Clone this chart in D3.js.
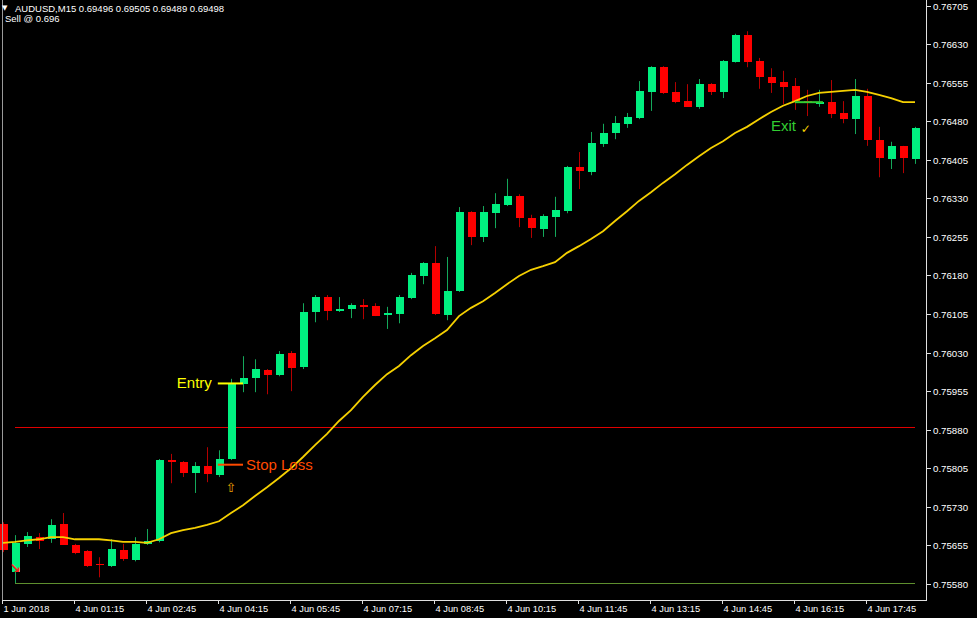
<!DOCTYPE html>
<html><head><meta charset="utf-8">
<script src="https://cdn.jsdelivr.net/npm/d3@7/dist/d3.min.js"></script>
<style>body{margin:0;background:#000;} svg{display:block}</style>
</head><body><svg id="c" width="977" height="618"></svg>
<script>
const openP=[0.75697,0.75603,0.75658,0.75671,0.75667,0.75697,0.75656,0.75644,0.75619,0.75615,0.75646,0.75626,0.75658,0.75663,0.75821,0.75817,0.75796,0.75809,0.75792,0.75823,0.75969,0.75980,0.75996,0.75986,0.76029,0.76002,0.76109,0.76138,0.76111,0.76115,0.76122,0.76121,0.76103,0.76105,0.76136,0.76179,0.76204,0.76103,0.76150,0.76303,0.76255,0.76301,0.76317,0.76334,0.76292,0.76270,0.76294,0.76305,0.76391,0.76381,0.76436,0.76457,0.76475,0.76486,0.76537,0.76585,0.76537,0.76519,0.76508,0.76552,0.76537,0.76595,0.76648,0.76597,0.76566,0.76556,0.76548,0.76519,0.76515,0.76517,0.76496,0.76484,0.76529,0.76443,0.76406,0.76432,0.76406];
const highP=[0.75700,0.75675,0.75681,0.75679,0.75706,0.75718,0.75658,0.75646,0.75632,0.75667,0.75658,0.75671,0.75687,0.75823,0.75833,0.75819,0.75817,0.75846,0.75840,0.75979,0.76023,0.76017,0.75998,0.76033,0.76033,0.76126,0.76142,0.76142,0.76138,0.76126,0.76134,0.76126,0.76119,0.76142,0.76185,0.76206,0.76237,0.76216,0.76313,0.76305,0.76315,0.76340,0.76368,0.76338,0.76298,0.76299,0.76333,0.76393,0.76420,0.76459,0.76475,0.76490,0.76496,0.76558,0.76587,0.76587,0.76556,0.76552,0.76562,0.76554,0.76599,0.76650,0.76655,0.76603,0.76583,0.76578,0.76564,0.76541,0.76541,0.76560,0.76519,0.76562,0.76543,0.76469,0.76440,0.76432,0.76469];
const lowP=[0.75642,0.75582,0.75652,0.75648,0.75660,0.75656,0.75638,0.75613,0.75593,0.75613,0.75625,0.75624,0.75656,0.75661,0.75776,0.75788,0.75757,0.75778,0.75788,0.75821,0.75953,0.75953,0.75949,0.75984,0.75955,0.75998,0.76089,0.76093,0.76109,0.76097,0.76095,0.76101,0.76076,0.76087,0.76134,0.76163,0.76103,0.76093,0.76148,0.76239,0.76245,0.76272,0.76315,0.76274,0.76253,0.76255,0.76255,0.76301,0.76348,0.76375,0.76430,0.76445,0.76467,0.76484,0.76500,0.76533,0.76515,0.76508,0.76504,0.76531,0.76525,0.76594,0.76585,0.76543,0.76535,0.76513,0.76502,0.76490,0.76508,0.76486,0.76476,0.76455,0.76432,0.76371,0.76387,0.76379,0.76397];
const closeP=[0.75646,0.75660,0.75673,0.75663,0.75695,0.75656,0.75640,0.75615,0.75617,0.75648,0.75628,0.75658,0.75663,0.75821,0.75817,0.75796,0.75809,0.75794,0.75823,0.75969,0.75980,0.75998,0.75986,0.76027,0.76000,0.76109,0.76138,0.76111,0.76115,0.76122,0.76119,0.76101,0.76107,0.76138,0.76181,0.76204,0.76105,0.76150,0.76303,0.76255,0.76303,0.76319,0.76334,0.76292,0.76272,0.76296,0.76307,0.76391,0.76383,0.76438,0.76457,0.76476,0.76488,0.76539,0.76585,0.76535,0.76517,0.76508,0.76552,0.76537,0.76597,0.76648,0.76595,0.76566,0.76554,0.76546,0.76519,0.76517,0.76517,0.76494,0.76484,0.76529,0.76443,0.76408,0.76432,0.76408,0.76467];
const maP=[0.75660,0.75662,0.75665,0.75667,0.75671,0.75671,0.75667,0.75667,0.75667,0.75665,0.75662,0.75662,0.75660,0.75667,0.75679,0.75685,0.75689,0.75695,0.75702,0.75718,0.75733,0.75751,0.75768,0.75786,0.75805,0.75827,0.75850,0.75872,0.75897,0.75918,0.75944,0.75967,0.75988,0.76004,0.76025,0.76043,0.76058,0.76074,0.76101,0.76117,0.76130,0.76146,0.76163,0.76179,0.76191,0.76198,0.76206,0.76224,0.76237,0.76251,0.76266,0.76286,0.76305,0.76325,0.76342,0.76360,0.76377,0.76395,0.76412,0.76428,0.76441,0.76457,0.76469,0.76484,0.76498,0.76510,0.76519,0.76529,0.76535,0.76537,0.76539,0.76541,0.76537,0.76531,0.76525,0.76517,0.76517];
const yTicks=[0.76705,0.76630,0.76555,0.76480,0.76405,0.76330,0.76255,0.76180,0.76105,0.76030,0.75955,0.75880,0.75805,0.75730,0.75655,0.75580];
const xTickIdx=[0,6,12,18,24,30,36,42,48,54,60,66,72];
const xTickLabels=["1 Jun 2018","4 Jun 01:15","4 Jun 02:45","4 Jun 04:15","4 Jun 05:45","4 Jun 07:15","4 Jun 08:45","4 Jun 10:15","4 Jun 11:45","4 Jun 13:15","4 Jun 14:45","4 Jun 16:15","4 Jun 17:45"];
const entryPrice=0.75970, stopPrice=0.75812, exitPrice=0.76517;
const levelRed=0.75885, levelGreen=0.75582;

const svg=d3.select("#c");
svg.append("rect").attr("width",977).attr("height",618).attr("fill","#000");
const x=d3.scaleLinear().domain([0,76]).range([3,915]);
const y=d3.scaleLinear().domain([0.75580,0.76705]).range([584,5.5]);
const FONT="'Liberation Sans', Arial, sans-serif";
const GREEN="#00F080", RED="#FF0000";

const n=openP.length;
const bars=d3.range(n).map(i=>({i,o:openP[i],h:highP[i],l:lowP[i],c:closeP[i]}));

// level lines
svg.append("line").attr("x1",x(1)).attr("x2",x(76)).attr("y1",Math.round(y(levelRed))+0.5).attr("y2",Math.round(y(levelRed))+0.5).attr("stroke","#E00000").attr("stroke-width",1);
svg.append("line").attr("x1",x(1)).attr("x2",x(76)).attr("y1",Math.round(y(levelGreen))+0.5).attr("y2",Math.round(y(levelGreen))+0.5).attr("stroke","#5E8F2E").attr("stroke-width",1);

// wicks
svg.append("g").selectAll("line").data(bars).join("line")
  .attr("x1",d=>Math.round(x(d.i))+0.5).attr("x2",d=>Math.round(x(d.i))+0.5)
  .attr("y1",d=>y(d.h)).attr("y2",d=>y(d.l))
  .attr("stroke",d=>d.c>=d.o?"#14A85A":"#B40000").attr("stroke-width",1);
// bodies
svg.append("g").selectAll("rect").data(bars).join("rect")
  .attr("x",d=>Math.round(x(d.i))-3.5+0.5).attr("width",8)
  .attr("y",d=>y(Math.max(d.o,d.c))).attr("height",d=>Math.max(1.5,Math.abs(y(d.o)-y(d.c))))
  .attr("fill",d=>d.c>=d.o?GREEN:RED).attr("shape-rendering","crispEdges");

// MA
svg.append("path").datum(maP).attr("fill","none").attr("stroke","#F5D000").attr("stroke-width",1.8)
  .attr("d",d3.line().x((d,i)=>x(i)).y(d=>y(d)));

// annotations
svg.append("line").attr("x1",x(17.9)).attr("x2",x(20)).attr("y1",y(entryPrice)).attr("y2",y(entryPrice)).attr("stroke","#FFFF00").attr("stroke-width",2);
svg.append("text").attr("x",x(17.9)-6).attr("y",y(entryPrice)+5).attr("text-anchor","end").attr("font-family",FONT).attr("font-size",15).attr("fill","#FFFF00").text("Entry");
svg.append("line").attr("x1",x(17.9)).attr("x2",x(20)).attr("y1",y(stopPrice)).attr("y2",y(stopPrice)).attr("stroke","#FF4A00").attr("stroke-width",2);
svg.append("text").attr("x",x(20)+3).attr("y",y(stopPrice)+5).attr("font-family",FONT).attr("font-size",15).attr("fill","#FF4A00").text("Stop Loss");
svg.append("text").attr("x",x(19)).attr("y",y(lowP[19])+32).attr("text-anchor","middle").attr("font-family","'DejaVu Sans'").attr("font-size",13).attr("fill","#E8A000").text("⇧");
svg.append("text").attr("x",x(1)).attr("y",y(openP[1])+1).attr("text-anchor","middle").attr("font-family","'DejaVu Sans'").attr("font-size",14).attr("font-weight","bold").attr("fill","#FF1A1A").text("↘");
svg.append("line").attr("x1",x(66)).attr("x2",x(68.33)).attr("y1",y(exitPrice)).attr("y2",y(exitPrice)).attr("stroke","#32CD32").attr("stroke-width",2);
svg.append("text").attr("x",x(64)).attr("y",y(exitPrice)+29).attr("font-family",FONT).attr("font-size",15).attr("fill","#32CD32").text("Exit");
svg.append("text").attr("x",x(66.9)).attr("y",y(exitPrice)+31).attr("text-anchor","middle").attr("font-family","'DejaVu Sans'").attr("font-size",12).attr("fill","#F5D000").text("✓");

// frame
svg.append("line").attr("x1",2.5).attr("x2",2.5).attr("y1",0).attr("y2",600).attr("stroke","#9A9A9A");
svg.append("line").attr("x1",2).attr("x2",927).attr("y1",600.5).attr("y2",600.5).attr("stroke","#E0E0E0");
svg.append("line").attr("x1",926.5).attr("x2",926.5).attr("y1",0).attr("y2",601).attr("stroke","#E0E0E0");

// right axis
const ya=svg.append("g");
yTicks.forEach(t=>{
  const yy=Math.round(y(t))+0.5;
  ya.append("line").attr("x1",927).attr("x2",931).attr("y1",yy).attr("y2",yy).attr("stroke","#E0E0E0");
  ya.append("text").attr("x",933).attr("y",yy+3.5).attr("font-family",FONT).attr("font-size",9.7).attr("fill","#FFFFFF").text(t.toFixed(5));
});
// bottom axis
const xa=svg.append("g");
xTickIdx.forEach((idx,k)=>{
  const xx=Math.round(x(idx))-0.5;
  xa.append("line").attr("x1",xx).attr("x2",xx).attr("y1",600).attr("y2",604).attr("stroke","#E0E0E0");
  xa.append("text").attr("x",xx+1).attr("y",612).attr("font-family",FONT).attr("font-size",9.3).attr("fill","#FFFFFF").text(xTickLabels[k]);
});

// header
svg.append("text").attr("x",2).attr("y",10).attr("font-family","'DejaVu Sans'").attr("font-size",7).attr("fill","#FFFFFF").text("▼");
svg.append("text").attr("x",15).attr("y",11.5).attr("font-family",FONT).attr("font-size",9.5).attr("fill","#FFFFFF").text("AUDUSD,M15  0.69496 0.69505 0.69489 0.69498");
svg.append("text").attr("x",5).attr("y",22).attr("font-family",FONT).attr("font-size",9.5).attr("fill","#FFFFFF").text("Sell @ 0.696");
</script></body></html>
